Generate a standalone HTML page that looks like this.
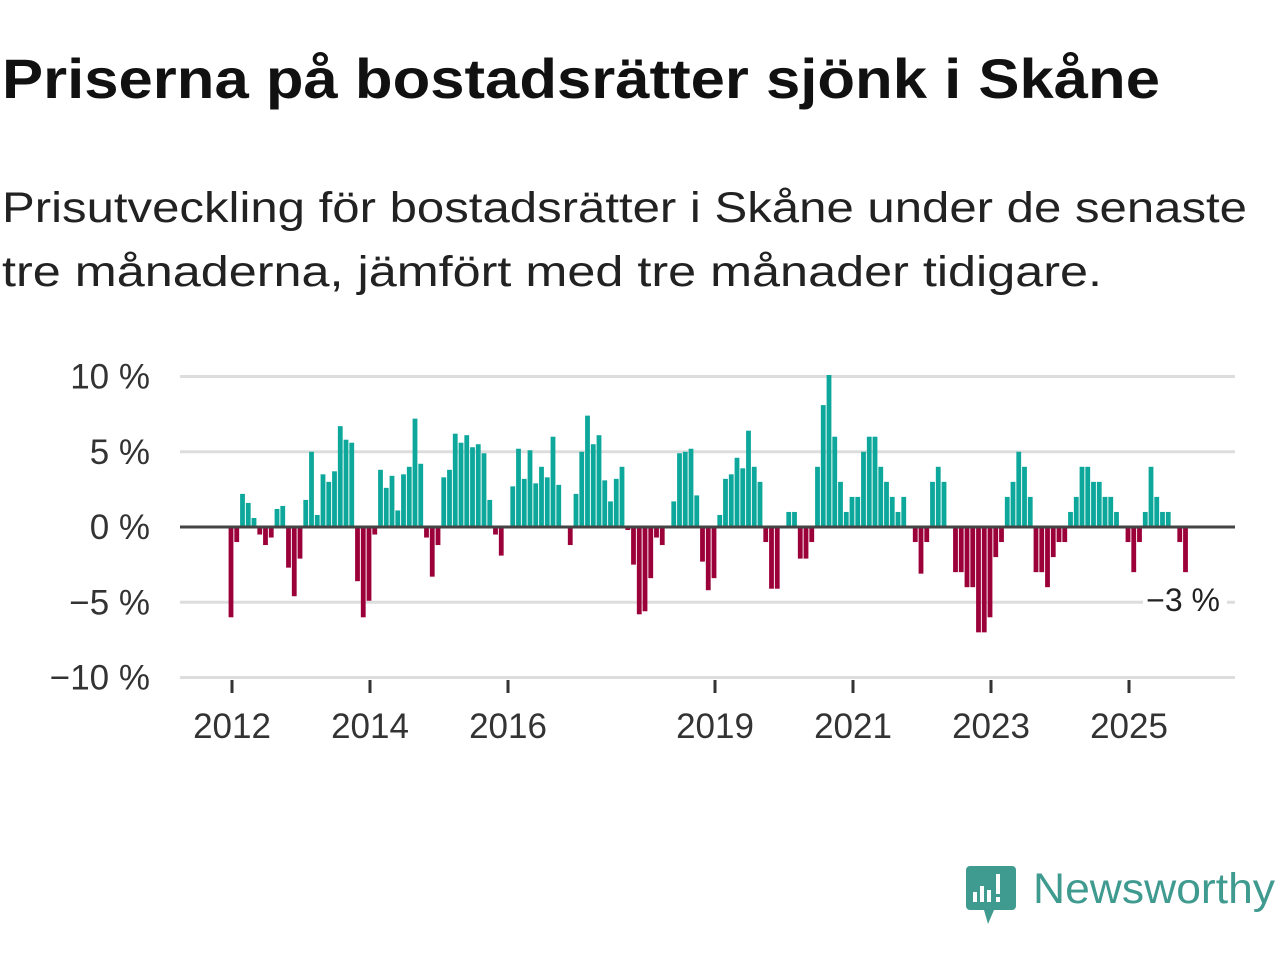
<!DOCTYPE html>
<html><head><meta charset="utf-8"><style>
body{margin:0;background:#fff;width:1280px;height:960px;overflow:hidden;font-family:"Liberation Sans",sans-serif;}
</style></head><body>
<svg id="chart" width="1280" height="960" xmlns="http://www.w3.org/2000/svg" font-family="Liberation Sans, sans-serif">
<text x="2" y="98" font-size="56" font-weight="bold" fill="#111" textLength="1158" lengthAdjust="spacingAndGlyphs">Priserna på bostadsrätter sjönk i Skåne</text>
<text x="2" y="222" font-size="43" fill="#222" textLength="1245" lengthAdjust="spacingAndGlyphs">Prisutveckling för bostadsrätter i Skåne under de senaste</text>
<text x="2" y="286" font-size="43" fill="#222" textLength="1100" lengthAdjust="spacingAndGlyphs">tre månaderna, jämfört med tre månader tidigare.</text>
<g id="grid"></g>
<g id="bars"></g>
<g id="xaxis"></g>
<rect x="1143" y="583" width="84" height="34" fill="#fff"/>
<text x="1220" y="611" font-size="32" text-anchor="end" fill="#222">−3 %</text>
<g>
<path d="M970 866 h42 a4 4 0 0 1 4 4 v36 a4 4 0 0 1 -4 4 h-18 l-6 14 l-4 -14 h-14 a4 4 0 0 1 -4 -4 v-36 a4 4 0 0 1 4 -4z" fill="#3f9a8f"/>
<rect x="973" y="892" width="4" height="10" fill="#fff"/><rect x="980" y="886" width="4" height="16" fill="#fff"/><rect x="987" y="890" width="4" height="12" fill="#fff"/><rect x="996" y="874" width="4" height="20" fill="#fff"/><rect x="996" y="897" width="4" height="5" fill="#fff"/>
<text x="1033" y="903" font-size="43" fill="#3f9a8f" textLength="242" lengthAdjust="spacingAndGlyphs">Newsworthy</text>
</g>
</svg>
<script>
const values=[-6.0,-1.0,2.2,1.6,0.6,-0.5,-1.2,-0.7,1.2,1.4,-2.7,-4.6,-2.1,1.8,5.0,0.8,3.5,3.0,3.7,6.7,5.8,5.6,-3.6,-6.0,-4.9,-0.5,3.8,2.6,3.4,1.1,3.5,4.0,7.2,4.2,-0.7,-3.3,-1.2,3.3,3.8,6.2,5.6,6.1,5.3,5.5,4.9,1.8,-0.5,-1.9,0,2.7,5.2,3.2,5.1,2.9,4.0,3.3,6.0,2.8,0,-1.2,2.2,5.0,7.4,5.5,6.1,3.1,1.7,3.2,4.0,-0.2,-2.5,-5.8,-5.6,-3.4,-0.7,-1.2,0.1,1.7,4.9,5.0,5.2,2.1,-2.3,-4.2,-3.4,0.8,3.2,3.5,4.6,3.9,6.4,4.0,3.0,-1.0,-4.1,-4.1,0,1.0,1.0,-2.1,-2.1,-1.0,4.0,8.1,10.1,6.0,3.0,1.0,2.0,2.0,5.0,6.0,6.0,4.0,3.0,2.0,1.0,2.0,0,-1.0,-3.1,-1.0,3.0,4.0,3.0,0,-3.0,-3.0,-4.0,-4.0,-7.0,-7.0,-6.0,-2.0,-1.0,2.0,3.0,5.0,4.0,2.0,-3.0,-3.0,-4.0,-2.0,-1.0,-1.0,1.0,2.0,4.0,4.0,3.0,3.0,2.0,2.0,1.0,0,-1.0,-3.0,-1.0,1.0,4.0,2.0,1.0,1.0,0,-1.0,-3.0];
const startYear=2012;
const yTicks=[10,5,0,-5,-10];
const yTickLabels=["10 %","5 %","0 %","−5 %","−10 %"];
const xTickYears=[2012,2014,2016,2019,2021,2023,2025];
const NS="http://www.w3.org/2000/svg";
const yScale=v=>527-v*15.05;
const xScale=m=>231+m*5.75;
function mk(t,a){const e=document.createElementNS(NS,t);for(const k in a)e.setAttribute(k,a[k]);return e;}
const grid=document.getElementById('grid');
yTicks.forEach((t,i)=>{
  const l=mk('line',{x1:180,x2:1235,y1:yScale(t),y2:yScale(t),stroke:'#ddd','stroke-width':3});
  
  
  grid.appendChild(l);
  const tx=mk('text',{x:150,y:yScale(t)+12,'font-size':35,'text-anchor':'end',fill:'#333'});
  
  
  tx.textContent=yTickLabels[i];grid.appendChild(tx);
});
const bars=document.getElementById('bars');
values.forEach((v,i)=>{
  if(v===0)return;
  const y0=yScale(0),y1=yScale(v);
  const r=mk('rect',{x:xScale(i)-2.4,width:4.8,y:Math.min(y0,y1),height:Math.abs(y1-y0),fill:v>0?'#0da79b':'#9c0038'});
  
  
  bars.appendChild(r);
});
const zl=mk('line',{x1:180,x2:1235,y1:yScale(0),y2:yScale(0),stroke:'#444','stroke-width':3});


bars.appendChild(zl);
const xa=document.getElementById('xaxis');
xTickYears.forEach(y=>{
  const x=xScale((y-startYear)*12)+1;
  const t=mk('line',{x1:x,x2:x,y1:680,y2:693,stroke:'#333','stroke-width':3});
  
  
  xa.appendChild(t);
  const tx=mk('text',{x:x,y:738,'font-size':35,'text-anchor':'middle',fill:'#333'});
  
  
  tx.textContent=y;xa.appendChild(tx);
});
</script>
</body></html>
